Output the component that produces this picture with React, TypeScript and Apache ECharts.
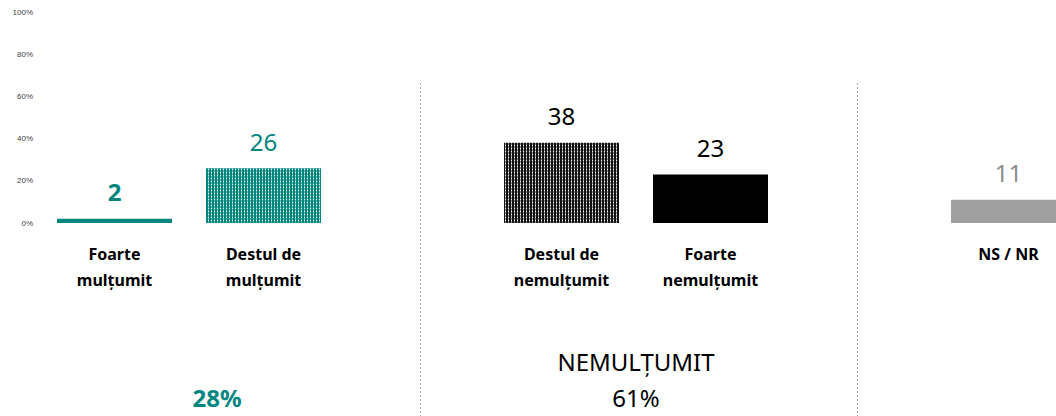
import React, { useEffect, useRef } from "react";
import * as echarts from "echarts";

// ---- data ----
const satisfiedCategories = ["Foarte\nmulțumit", "Destul de\nmulțumit"];
const satisfiedValues = [2, 26];
const dissatisfiedCategories = ["Destul de\nnemulțumit", "Foarte\nnemulțumit"];
const dissatisfiedValues = [38, 23];
const unknownCategories = ["NS / NR"];
const unknownValues = [11];
const yTicks = [0, 20, 40, 60, 80, 100];
const dissatisfiedTitle = "NEMULȚUMIT";

const TEAL = "#00857f";
const FONT = "'Noto Sans', 'Open Sans', sans-serif";

function makePattern(bg: string, stripe: string, dot: string) {
  const c = document.createElement("canvas");
  c.width = 3;
  c.height = 3;
  const ctx = c.getContext("2d")!;
  ctx.fillStyle = bg;
  ctx.fillRect(0, 0, 3, 3);
  ctx.fillStyle = stripe;
  ctx.fillRect(1, 0, 1, 3);
  ctx.fillStyle = dot;
  ctx.fillRect(1, 1, 1, 1);
  return { image: c.toDataURL(), repeat: "repeat", imageWidth: 3, imageHeight: 3 };
}

export default function App() {
  const ref = useRef<HTMLDivElement>(null);
  useEffect(() => {
    if (!ref.current) return;
    const chart = echarts.init(ref.current, null, { renderer: "svg" });

    const tealPattern = makePattern(TEAL, "#5fb3b0", "#ffffff");
    const blackPattern = makePattern("#111111", "#8a8a8a", "#ffffff");

    const cats = [...satisfiedCategories, "", ...dissatisfiedCategories, " ", ...unknownCategories];
    const styles = [
      { color: TEAL, label: TEAL, bold: true },
      { color: tealPattern, label: TEAL, bold: false },
      null,
      { color: blackPattern, label: "#000000", bold: false },
      { color: "#000000", label: "#000000", bold: false },
      null,
      { color: "#a0a0a0", label: "#8c8c8c", bold: false },
    ];
    const vals = [...satisfiedValues, null, ...dissatisfiedValues, null, ...unknownValues];
    const data = vals.map((v, i) => {
      const s = styles[i];
      if (v === null || !s) return "-";
      return {
        value: v,
        itemStyle: { color: s.color as any },
        label: {
          color: s.label,
          fontWeight: s.bold ? "bold" : "normal",
        },
      };
    });

    const satSum = satisfiedValues.reduce((a, b) => a + b, 0);
    const disSum = dissatisfiedValues.reduce((a, b) => a + b, 0);

    chart.setOption({
      animation: false,
      grid: { left: 40, top: 12, bottom: 193, right: 0, containLabel: false },
      xAxis: {
        type: "category",
        data: cats,
        axisLine: { show: false },
        axisTick: { show: false },
        axisLabel: {
          interval: 0,
          margin: 18,
          fontFamily: FONT,
          fontWeight: "bold",
          fontSize: 16,
          lineHeight: 26,
          color: "#000000",
        },
      },
      yAxis: {
        type: "value",
        min: yTicks[0],
        max: yTicks[yTicks.length - 1],
        interval: yTicks[1] - yTicks[0],
        axisLine: { show: false },
        axisTick: { show: false },
        splitLine: { show: false },
        axisLabel: {
          formatter: "{value}%",
          fontSize: 8,
          color: "#404040",
          fontFamily: "'Liberation Sans', Arial, sans-serif",
          margin: 7,
        },
      },
      series: [
        {
          type: "bar",
          data,
          barWidth: 115,
          label: {
            show: true,
            position: "top",
            distance: 15,
            fontSize: 24,
            fontFamily: FONT,
          },
        },
      ],
      graphic: [
        {
          type: "line",
          shape: { x1: 420.5, y1: 83, x2: 420.5, y2: 416 },
          style: { stroke: "#a6a6a6", lineWidth: 1, lineDash: [2, 2] },
        },
        {
          type: "line",
          shape: { x1: 857.5, y1: 83, x2: 857.5, y2: 416 },
          style: { stroke: "#a6a6a6", lineWidth: 1, lineDash: [2, 2] },
        },
        {
          type: "text",
          x: 217,
          y: 397,
          style: {
            text: `${satSum}%`,
            fill: TEAL,
            font: `bold 24px ${FONT}`,
            align: "center",
            verticalAlign: "middle",
          },
        },
        {
          type: "text",
          x: 636,
          y: 361,
          style: {
            text: dissatisfiedTitle,
            fill: "#000000",
            font: `24px ${FONT}`,
            align: "center",
            verticalAlign: "middle",
          },
        },
        {
          type: "text",
          x: 636,
          y: 397,
          style: {
            text: `${disSum}%`,
            fill: "#000000",
            font: `24px ${FONT}`,
            align: "center",
            verticalAlign: "middle",
          },
        },
      ],
    });
    return () => chart.dispose();
  }, []);
  return (
    <div
      ref={ref}
      style={{ position: "fixed", left: 0, top: 0, width: 1083, height: 416, background: "#ffffff" }}
    />
  );
}
